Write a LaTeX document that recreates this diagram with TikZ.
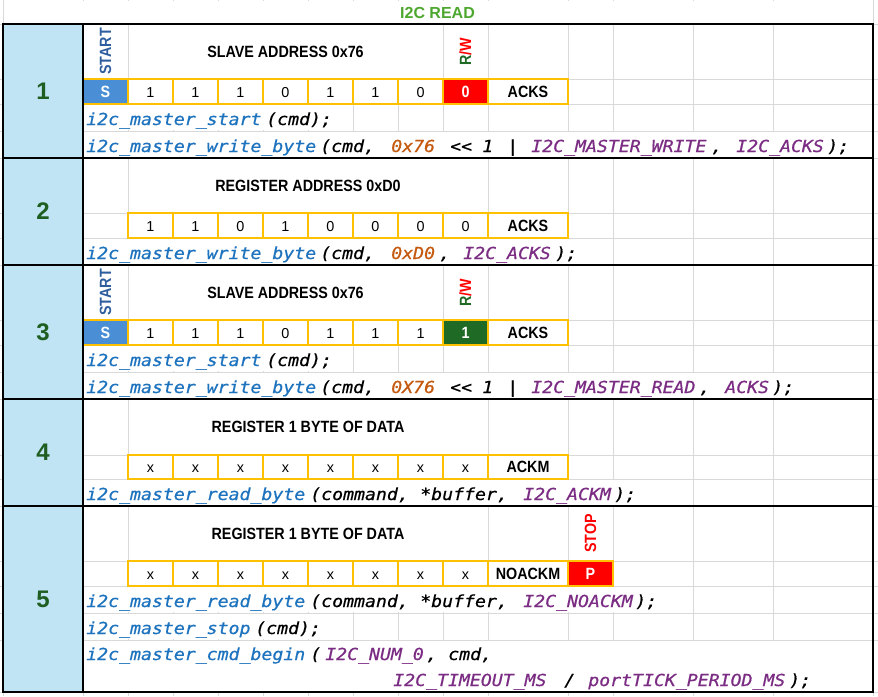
\documentclass[tikz,border=0pt]{standalone}
\usepackage{fontspec}
\setmainfont{Liberation Sans}
\newfontfamily\lblfont{Liberation Sans}[FakeStretch=0.88]
\newfontfamily\codefont{DejaVu Sans Mono}[FakeStretch=1.1, FakeBold=0.6]

\definecolor{gridgray}{HTML}{D9D9D9}
\definecolor{cellblue}{HTML}{C1E4F5}
\definecolor{sblue}{HTML}{4A8FD6}
\definecolor{bitorange}{HTML}{FFC000}
\definecolor{rwgreen}{HTML}{1F6B25}
\definecolor{numgreen}{HTML}{1E5E20}
\definecolor{startblue}{HTML}{2F5E9E}
\definecolor{titlegreen}{HTML}{4EA72E}
\definecolor{fnblue}{HTML}{1E73BE}
\definecolor{hexorange}{HTML}{C55A11}
\definecolor{argpurple}{HTML}{7B2C83}

\tikzset{
  hdr/.style={font=\lblfont\bfseries\fontsize{12.2}{14}\selectfont, inner sep=0pt},
  bit/.style={font=\fontsize{10.8}{12}\selectfont, inner sep=0pt, anchor=base},
  obox/.style={draw=bitorange, line width=1.5pt},
  code/.style={font=\codefont\itshape\fontsize{12.4}{14}\selectfont, inner sep=0pt, anchor=base west},
  stepnum/.style={font=\bfseries\fontsize{18}{20}\selectfont, text=numgreen, inner sep=0pt},
  border/.style={black, line width=1pt}
}

\newcounter{tokno}
\newcommand{\tok}[4]{\stepcounter{tokno}\node[code, text=#3] (tok\arabic{tokno}) at (#1,#2) {#4};}

\begin{document}
\begin{tikzpicture}[x=0.75pt, y=-0.75pt]
    \useasboundingbox (0,0) rectangle (878,696);
    \fill[white] (0,0) rectangle (878,696);
    % sheet grid
    \foreach \gx in {3,83,128,173,218,263,308,353,398,443,488,568,613,693,773,873}
        \draw[gridgray, line width=0.75pt] (\gx,0) -- (\gx,696);
    \foreach \gy in {24,79,104,131,158,213,238,265,320,345,372,399,455,479,506,561,586,613,640,692}
        \draw[gridgray, line width=0.75pt] (0,\gy) -- (878,\gy);
    % merged cells and long text hide the grid
    \foreach \xa/\ya/\xb/\yb in {3/0/873/24, 128/24/443/79, 83/104/353/131, 83/131/873/158,
        128/158/488/213, 83/238/613/265, 128/265/443/320, 83/345/353/372, 83/372/873/399,
        128/399/488/455, 83/479/693/506, 128/506/488/561, 83/586/693/613, 83/613/353/640,
        83/640/873/692}
        \fill[white] (\xa+0.6,\ya+0.6) rectangle (\xb-0.6,\yb-0.6);
    \node[font=\bfseries\fontsize{12}{14}\selectfont, text=titlegreen, inner sep=0pt] (title) at (437.5,12.5) {I2C READ};

    % step column
    \foreach \ya/\yb/\n in {24/158/1, 158/265/2, 265/399/3, 399/506/4, 506/692/5} {
        \fill[cellblue] (3,\ya) rectangle (83,\yb);
        \node[stepnum] (step\n) at (43,{(\ya+\yb)/2}) {\n};
    }

    % bit cells
    \fill[sblue] (83,79) rectangle (128,104);
    \fill[red] (443,79) rectangle (488,104);
    \fill[sblue] (83,320) rectangle (128,345);
    \fill[rwgreen] (443,320) rectangle (488,345);
    \fill[red] (568,561) rectangle (613,586);
    \draw[obox] (83,79) rectangle (568,104);
    \draw[obox] (128,213) rectangle (568,238);
    \draw[obox] (83,320) rectangle (568,345);
    \draw[obox] (128,455) rectangle (568,479);
    \draw[obox] (128,561) rectangle (613,586);
    \foreach \gx in {128,173,218,263,308,353,398,443,488} {
        \draw[obox] (\gx,79) -- (\gx,104);
        \draw[obox] (\gx,320) -- (\gx,345);
    }
    \foreach \gx in {173,218,263,308,353,398,443,488} {
        \draw[obox] (\gx,213) -- (\gx,238);
        \draw[obox] (\gx,455) -- (\gx,479);
        \draw[obox] (\gx,561) -- (\gx,586);
    }
    \draw[obox] (568,561) -- (568,586);

    % table borders
    \draw[border] (3,24) rectangle (873,692);
    \foreach \yb in {158,265,399,506}
        \draw[border] (3,\yb) -- (873,\yb);
    \draw[border] (83,24) -- (83,692);

    % 1: slave address, write
    \node[hdr, rotate=90, text=startblue] (start1) at (105.5,51.5) {START};
    \node[hdr] (addr1) at (285.5,51.5) {SLAVE ADDRESS 0x76};
    \node[hdr, rotate=90] (rw1) at (465.5,51.5) {\textcolor{rwgreen}{R}\textcolor{red}{/W}};
    \node[hdr, text=white, anchor=base] (s1) at (105.5,97) {S};
    \foreach \b [count=\i from 0] in {1,1,1,0,1,1,0}
        \node[bit] (bitA\i) at ({150.5+45*\i},97) {\b};
    \node[hdr, text=white, anchor=base] (rwbit1) at (465.5,97) {0};
    \node[hdr, anchor=base] (ack1) at (528,97) {ACKS};
    \tok{86}{125}{fnblue}{i2c\_master\_start}
    \tok{266}{125}{black}{(cmd);}
    \tok{86}{152}{fnblue}{i2c\_master\_write\_byte}
    \tok{320}{152}{black}{(cmd,}
    \tok{391}{152}{hexorange}{0x76}
    \tok{450}{152}{black}{<<}
    \tok{482}{152}{black}{1}
    \tok{507}{152}{black}{|}
    \tok{531}{152}{argpurple}{I2C\_MASTER\_WRITE}
    \tok{711}{152}{black}{,}
    \tok{736}{152}{argpurple}{I2C\_ACKS}
    \tok{827}{152}{black}{);}

    % 2: register address
    \node[hdr] (addr2) at (308,185.5) {REGISTER ADDRESS 0xD0};
    \foreach \b [count=\i from 0] in {1,1,0,1,0,0,0,0}
        \node[bit] (bitB\i) at ({150.5+45*\i},231) {\b};
    \node[hdr, anchor=base] (ack2) at (528,231) {ACKS};
    \tok{86}{259}{fnblue}{i2c\_master\_write\_byte}
    \tok{320}{259}{black}{(cmd,}
    \tok{391}{259}{hexorange}{0xD0}
    \tok{439}{259}{black}{,}
    \tok{463}{259}{argpurple}{I2C\_ACKS}
    \tok{555}{259}{black}{);}

    % 3: slave address, read
    \node[hdr, rotate=90, text=startblue] (start3) at (105.5,292.5) {START};
    \node[hdr] (addr3) at (285.5,292.5) {SLAVE ADDRESS 0x76};
    \node[hdr, rotate=90] (rw3) at (465.5,292.5) {\textcolor{rwgreen}{R}\textcolor{red}{/W}};
    \node[hdr, text=white, anchor=base] (s3) at (105.5,338) {S};
    \foreach \b [count=\i from 0] in {1,1,1,0,1,1,1}
        \node[bit] (bitC\i) at ({150.5+45*\i},338) {\b};
    \node[hdr, text=white, anchor=base] (rwbit3) at (465.5,338) {1};
    \node[hdr, anchor=base] (ack3) at (528,338) {ACKS};
    \tok{86}{366}{fnblue}{i2c\_master\_start}
    \tok{266}{366}{black}{(cmd);}
    \tok{86}{393}{fnblue}{i2c\_master\_write\_byte}
    \tok{320}{393}{black}{(cmd,}
    \tok{391}{393}{hexorange}{0X76}
    \tok{450}{393}{black}{<<}
    \tok{482}{393}{black}{1}
    \tok{507}{393}{black}{|}
    \tok{531}{393}{argpurple}{I2C\_MASTER\_READ}
    \tok{699}{393}{black}{,}
    \tok{725}{393}{argpurple}{ACKS}
    \tok{772}{393}{black}{);}

    % 4: data byte, ack
    \node[hdr] (data4) at (308,427) {REGISTER 1 BYTE OF DATA};
    \foreach \i in {0,...,7}
        \node[bit] (bitD\i) at ({150.5+45*\i},472) {x};
    \node[hdr, anchor=base] (ack4) at (528,472) {ACKM};
    \tok{86}{500}{fnblue}{i2c\_master\_read\_byte}
    \tok{310}{500}{black}{(command,}
    \tok{420}{500}{black}{*buffer,}
    \tok{523}{500}{argpurple}{I2C\_ACKM}
    \tok{614}{500}{black}{);}

    % 5: data byte, no ack, stop
    \node[hdr] (data5) at (308,533.5) {REGISTER 1 BYTE OF DATA};
    \node[hdr, rotate=90, text=red] (stop5) at (590.5,533.5) {STOP};
    \foreach \i in {0,...,7}
        \node[bit] (bitE\i) at ({150.5+45*\i},579) {x};
    \node[hdr, anchor=base] (ack5) at (528,579) {NOACKM};
    \node[hdr, text=white, anchor=base] (p5) at (590.5,579) {P};
    \tok{86}{607}{fnblue}{i2c\_master\_read\_byte}
    \tok{310}{607}{black}{(command,}
    \tok{420}{607}{black}{*buffer,}
    \tok{523}{607}{argpurple}{I2C\_NOACKM}
    \tok{635}{607}{black}{);}
    \tok{86}{634}{fnblue}{i2c\_master\_stop}
    \tok{255}{634}{black}{(cmd);}
    \tok{86}{660}{fnblue}{i2c\_master\_cmd\_begin}
    \tok{310}{660}{black}{(}
    \tok{325}{660}{argpurple}{I2C\_NUM\_0}
    \tok{426}{660}{black}{,}
    \tok{448}{660}{black}{cmd,}
    \tok{393}{686}{argpurple}{I2C\_TIMEOUT\_MS}
    \tok{564}{686}{black}{/}
    \tok{588}{686}{argpurple}{portTICK\_PERIOD\_MS}
    \tok{789}{686}{black}{);}
\end{tikzpicture}
\end{document}
